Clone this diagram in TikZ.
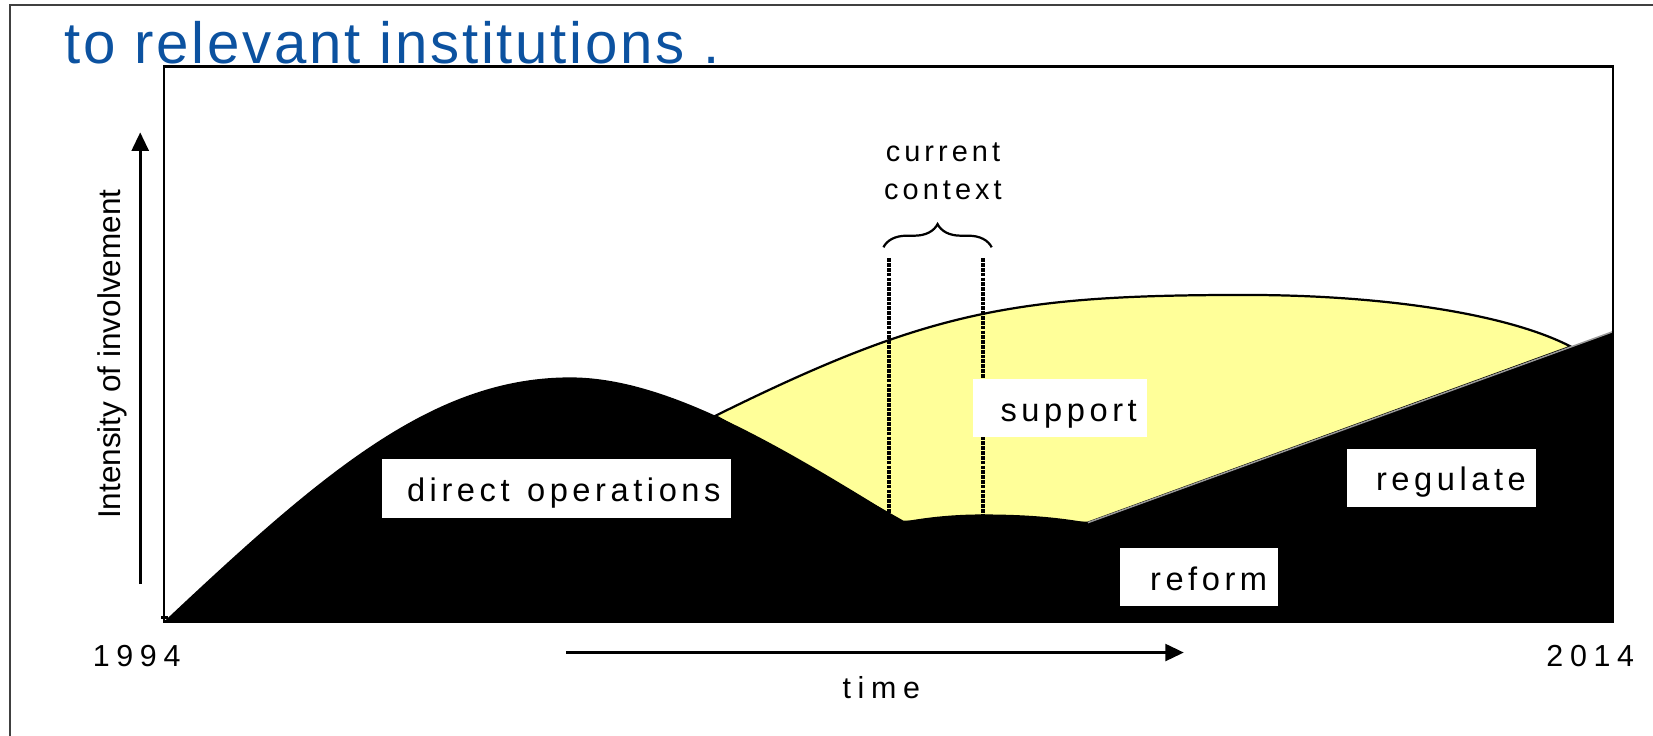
\documentclass[tikz,border=0pt]{standalone}
\usepackage{fontspec}
\setmainfont{Liberation Sans}
\newfontfamily\titlefont[LetterSpace=4.7]{Liberation Sans}
\newfontfamily\tagfont[LetterSpace=14]{Liberation Sans}
\newfontfamily\axisfont[LetterSpace=22]{Liberation Sans}
\usepackage{tikz}
\usetikzlibrary{arrows.meta,decorations.pathreplacing,positioning}
\definecolor{titleblue}{RGB}{12,82,160}
\definecolor{suppyellow}{RGB}{255,255,153}

\begin{document}
\begin{tikzpicture}[
  x=0.01cm, y=-0.01cm,
  tag/.style={fill=white, inner xsep=0.1cm, inner ysep=0pt, minimum height=0.55cm, align=right, text height=7.2pt, text depth=0pt, font=\tagfont\fontsize{8.8pt}{10pt}\selectfont},
  axislabel/.style={font=\axisfont\fontsize{8.2pt}{10pt}\selectfont, inner sep=0pt, anchor=base},
  arrow/.style={-{Triangle[length=5pt,width=4.5pt]}, line width=0.9pt},
  window/.style={line width=1pt, dash pattern=on 1pt off 0.3pt}
]
\useasboundingbox (0,0) rectangle (1568,698);

% Slide frame
\draw[black!75, line width=0.5pt] (9.7,698) -- (9.7,4.7) -- (1568,4.7);

% Support phase (yellow)
\filldraw[fill=suppyellow, draw=black, line width=0.6pt] (678.5,394.5) .. controls (879.6,295) and (961.5,279.8) .. (1181.5,279.8) .. controls (1311.5,279.8) and (1430,297.6) .. (1490,328.8) -- (1032,495.8) -- (856.6,494.9) -- cycle;

% Operations, reform and regulation (black)
\fill[black] (156.8,588.5) .. controls (306.8,447.5) and (411,358) .. (541,358) .. controls (631,358) and (737,420.6) .. (856.6,494.9) .. controls (875,491.5) and (900,488) .. (931.9,488) .. controls (975,488) and (1005,491) .. (1032,495.8) -- (1530,314.6) -- (1530,589.5) -- cycle;
\draw[black!40, line width=0.4pt] (1032,495.8) -- (1530,314.6);

% Plot box
\draw[line width=0.6pt] (155.6,63.2) rectangle (1530,589.5);
\draw[line width=0.6pt] (153,585.7) -- (159,585.7);

% Current context window
\draw[window] (843.6,245) -- (843.6,487);
\draw[window] (932.2,245) -- (932.2,488);
\draw[decorate, decoration={brace, amplitude=0.22cm}, line width=0.6pt] (838,234.6) -- (940.7,234.6);
\node[font=\tagfont\fontsize{7.8pt}{10.3pt}\selectfont, align=center, inner sep=0pt] (context) at (894.5,162.3) {current\\context};

% Phase labels
\node[tag, text width=3.114cm] (ops) at (527.7,463.4) {direct\hspace{0.2em} operations};
\node[tag, text width=1.456cm] (support) at (1005.5,387) {support};
\node[tag, text width=1.594cm] (regulate) at (1367.7,453) {regulate};
\node[tag, text width=1.296cm] (reform) at (1137.2,547.8) {reform};

% Title
\node[font=\titlefont\fontsize{15.7pt}{18pt}\selectfont, text=titleblue, anchor=base west, inner sep=0pt] (title) at (60.5,60) {to relevant institutions .};

% Axes
\node[rotate=90, font=\fontsize{8.5pt}{10pt}\selectfont, inner sep=0pt] (intensity) at (106.6,336) {Intensity of involvement};
\coordinate (ybottom) at (133,554);
\coordinate (ytop) at (133,125.5);
\draw[arrow] (ybottom) -- (ytop);

\node[axislabel] (start) at (129.6,632.4) {1994};
\node[axislabel] (end) at (1508.5,632.4) {2014};
\node[axislabel] (time) at (836,662.4) {time};
\coordinate (tleft) at (537,619);
\coordinate (tright) at (1123,619);
\draw[arrow] (tleft) -- (tright);

\end{tikzpicture}
\end{document}
